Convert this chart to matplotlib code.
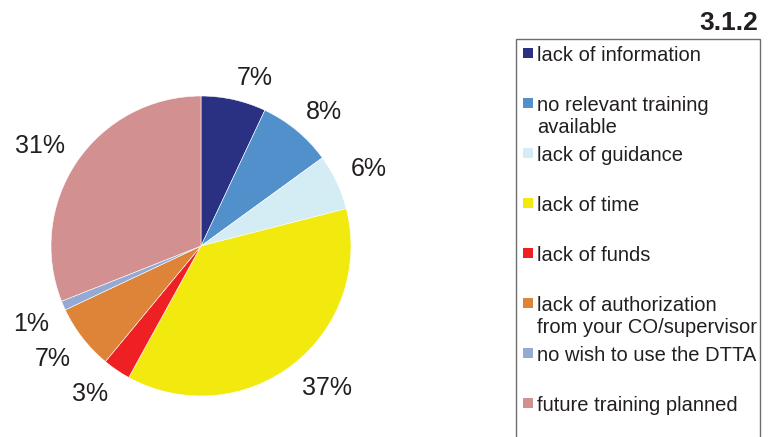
import numpy as np
import matplotlib.pyplot as plt
from matplotlib.patches import Rectangle

plt.rcParams['font.family'] = ['Liberation Sans', 'DejaVu Sans']

# data
categories = [
    "lack of information",
    "no relevant training\navailable",
    "lack of guidance",
    "lack of time",
    "lack of funds",
    "lack of authorization\nfrom your CO/supervisor",
    "no wish to use the DTTA",
    "future training planned",
]
shares = [7, 8, 6, 37, 3, 7, 1, 31]
colors = ["#2a3183", "#5290cc", "#d4ecf3", "#f2e90f",
          "#ee2024", "#de8438", "#94aad4", "#d29090"]
title = "3.1.2"
text_color = "#231f20"

W, H = 768, 437
fig = plt.figure(figsize=(W / 100, H / 100), dpi=100)

# pie: center (201, 246), radius 150 px
ax = fig.add_axes([51 / W, (H - 396) / H, 300 / W, 300 / H])
wedges, texts = ax.pie(shares, colors=colors, startangle=90, counterclock=False,
                       radius=1, labels=[f"{v}%" for v in shares],
                       labeldistance=1.1,
                       wedgeprops=dict(edgecolor="white", linewidth=0.4),
                       textprops=dict(fontsize=18, color=text_color))
# anchor the label corner nearest the pie (Excel style)
for t in texts:
    x, y = t.get_position()
    t.set_ha("left" if x > 0 else "right")
    t.set_va("baseline" if y > 0 else "top")
ax.set_xlim(-1, 1)
ax.set_ylim(-1, 1)
ax.set_aspect("equal")
ax.axis("off")

# title
fig.text(758 / W, 1 - 23 / H, title, ha="right", va="center",
         fontsize=19, fontweight="bold", color=text_color)

# legend box (runs off the bottom)
fig.patches.append(Rectangle((516 / W, -0.05), (760 - 516) / W, 1 - 39 / H + 0.05,
                             transform=fig.transFigure, facecolor="white",
                             edgecolor="#6d6d6d", linewidth=1.0, zorder=0))

# legend entries
for i, (lab, col) in enumerate(zip(categories, colors)):
    y = 53 + i * 50
    fig.patches.append(Rectangle((523 / W, 1 - (y + 5) / H), 10 / W, 10 / H,
                                 transform=fig.transFigure, facecolor=col,
                                 edgecolor="none", zorder=2))
    first, *rest = lab.split("\n")
    fig.text(537 / W, 1 - (y + 8) / H, first, ha="left", va="baseline",
             fontsize=14.5, color=text_color)
    for k, line in enumerate(rest, 1):
        fig.text(537 / W, 1 - (y + 8 + 22 * k) / H, line, ha="left",
                 va="baseline", fontsize=14.5, color=text_color)

fig.savefig("out.png", dpi=100)
